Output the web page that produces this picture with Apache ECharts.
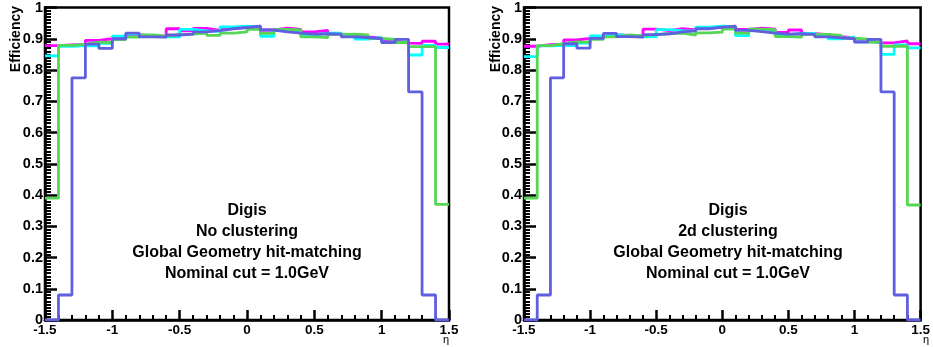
<!DOCTYPE html>
<html>
<head>
<meta charset="utf-8">
<script src="https://cdn.jsdelivr.net/npm/echarts@6/dist/echarts.min.js"></script>
<style>
html,body{margin:0;padding:0;background:#fff;}
#c{width:933px;height:347px;}
</style>
</head>
<body>
<div id="c"></div>
<script>
// Bin edges (eta), width 0.1
const binLow = [-1.5,-1.4,-1.3,-1.2,-1.1,-1.0,-0.9,-0.8,-0.7,-0.6,-0.5,-0.4,-0.3,-0.2,-0.1,0.0,0.1,0.2,0.3,0.4,0.5,0.6,0.7,0.8,0.9,1.0,1.1,1.2,1.3,1.4];
const lastEdge = 1.5;
const yTicks = [0,0.1,0.2,0.3,0.4,0.5,0.6,0.7,0.8,0.9,1];
const xTicks = [-1.5,-1,-0.5,0,0.5,1,1.5];

// Left panel: No clustering
const magentaL = [0.878,0.880,0.882,0.895,0.900,0.905,0.912,0.910,0.908,0.932,0.925,0.933,0.927,0.934,0.936,0.940,0.928,0.934,0.930,0.922,0.927,0.915,0.912,0.906,0.902,0.892,0.886,0.885,0.892,0.883];
const cyanL    = [0.845,0.876,0.878,0.877,0.885,0.908,0.915,0.908,0.906,0.906,0.930,0.925,0.924,0.938,0.940,0.937,0.908,0.926,0.925,0.912,0.918,0.918,0.910,0.899,0.904,0.889,0.888,0.848,0.879,0.872];
const greenL   = [0.390,0.879,0.883,0.889,0.888,0.897,0.905,0.912,0.908,0.913,0.915,0.918,0.911,0.918,0.922,0.930,0.917,0.930,0.928,0.906,0.904,0.914,0.915,0.912,0.901,0.898,0.888,0.875,0.875,0.370];
const blueL    = [0.000,0.080,0.775,0.883,0.869,0.900,0.918,0.906,0.905,0.912,0.915,0.922,0.926,0.932,0.936,0.940,0.928,0.922,0.918,0.915,0.916,0.915,0.906,0.904,0.900,0.888,0.898,0.730,0.080,0.000];

// Right panel: 2d clustering
const magentaR = [0.876,0.881,0.883,0.896,0.901,0.906,0.912,0.911,0.909,0.931,0.926,0.932,0.928,0.935,0.936,0.939,0.930,0.934,0.931,0.920,0.928,0.916,0.913,0.907,0.903,0.893,0.887,0.887,0.893,0.884];
const cyanR    = [0.843,0.877,0.879,0.878,0.886,0.909,0.914,0.909,0.906,0.907,0.929,0.926,0.925,0.937,0.940,0.938,0.910,0.927,0.924,0.913,0.917,0.917,0.909,0.900,0.905,0.890,0.889,0.850,0.880,0.871];
const greenR   = [0.390,0.878,0.884,0.890,0.889,0.898,0.906,0.912,0.909,0.914,0.916,0.918,0.912,0.919,0.921,0.931,0.918,0.931,0.929,0.907,0.905,0.914,0.914,0.911,0.902,0.899,0.889,0.876,0.876,0.368];
const blueR    = [0.000,0.080,0.775,0.884,0.870,0.901,0.917,0.907,0.905,0.913,0.916,0.922,0.925,0.932,0.937,0.940,0.927,0.923,0.918,0.915,0.916,0.914,0.906,0.903,0.900,0.889,0.898,0.730,0.080,0.000];

const panelTexts = [
  ['Digis','No clustering','Global Geometry hit-matching','Nominal cut = 1.0GeV'],
  ['Digis','2d clustering','Global Geometry hit-matching','Nominal cut = 1.0GeV']
];

const colors = {magenta:'#ff00ff', cyan:'#00ffff', green:'#55d655', blue:'#5f5fe0'};
const FONT = '"Liberation Sans", Arial, Helvetica, sans-serif';

function toSteps(vals){
  const d = binLow.map((x,i)=>[x, vals[i]]);
  d.push([lastEdge, vals[vals.length-1]]);
  return d;
}

const grids = [
  {left:45, right:484, top:6, bottom:27},
  {left:524, right:4, top:6, bottom:27}
];

const chart = echarts.init(document.getElementById('c'), null, {renderer:'canvas'});

const xAxes = grids.map((g,i)=>({
  type:'value', gridIndex:i, min:xTicks[0], max:xTicks[xTicks.length-1], interval:0.5,
  axisLine:{show:true, onZero:false, lineStyle:{color:'#000', width:2.5}},
  axisTick:{show:true, inside:true, length:10, lineStyle:{color:'#000', width:2.5}},
  minorTick:{show:true, splitNumber:5, length:5, lineStyle:{color:'#000', width:2}},
  splitLine:{show:false},
  axisLabel:{color:'#000', fontFamily:FONT, fontSize:13.5, fontWeight:'bold', margin:3,
    formatter:v=>String(+v.toFixed(1)), showMinLabel:true, showMaxLabel:true}
}));
const yAxes = grids.map((g,i)=>({
  type:'value', gridIndex:i, min:0, max:1, interval:0.1,
  axisLine:{show:true, onZero:false, lineStyle:{color:'#000', width:2.5}},
  axisTick:{show:true, inside:true, length:12, lineStyle:{color:'#000', width:2.5}},
  minorTick:{show:true, splitNumber:10, length:6, lineStyle:{color:'#000', width:2}},
  splitLine:{show:false},
  axisLabel:{color:'#000', fontFamily:FONT, fontSize:14.5, fontWeight:'bold', margin:2,
    formatter:v=>String(+v.toFixed(1)), showMinLabel:true, showMaxLabel:true}
}));

const panels = [
  [magentaL, cyanL, greenL, blueL],
  [magentaR, cyanR, greenR, blueR]
];
const cols = [colors.magenta, colors.cyan, colors.green, colors.blue];
const series = [];
panels.forEach((arrs,pi)=>{
  arrs.forEach((vals,si)=>{
    series.push({
      type:'line', xAxisIndex:pi, yAxisIndex:pi, step:'end', showSymbol:false,
      data:toSteps(vals), z:2+si, clip:true,
      lineStyle:{color:cols[si], width:2.8}, itemStyle:{color:cols[si]},
      emphasis:{disabled:true}
    });
  });
});

const graphic = [];
const textCenters = [247, 728];
panelTexts.forEach((lines,pi)=>{
  lines.forEach((t,li)=>{
    graphic.push({type:'text', x:textCenters[pi], y:211+li*21,
      style:{text:t, fill:'#000', font:'bold 16px '+FONT, textAlign:'center', textVerticalAlign:'middle'}});
  });
});
[16, 496].forEach(x=>{
  graphic.push({type:'text', x:x, y:6, rotation:Math.PI/2,
    style:{text:'Efficiency', fill:'#000', font:'bold 14px '+FONT, textAlign:'right', textVerticalAlign:'middle'}});
});
[446, 926].forEach(x=>{
  graphic.push({type:'text', x:x, y:340,
    style:{text:'η', fill:'#000', font:'11px '+FONT, textAlign:'center', textVerticalAlign:'middle'}});
});

chart.setOption({
  animation:false,
  backgroundColor:'#fff',
  grid: grids.map(g=>Object.assign({show:true, borderColor:'#000', borderWidth:2.5, backgroundColor:'transparent', containLabel:false}, g)),
  xAxis:xAxes, yAxis:yAxes, series:series, graphic:graphic
});
</script>
</body>
</html>
